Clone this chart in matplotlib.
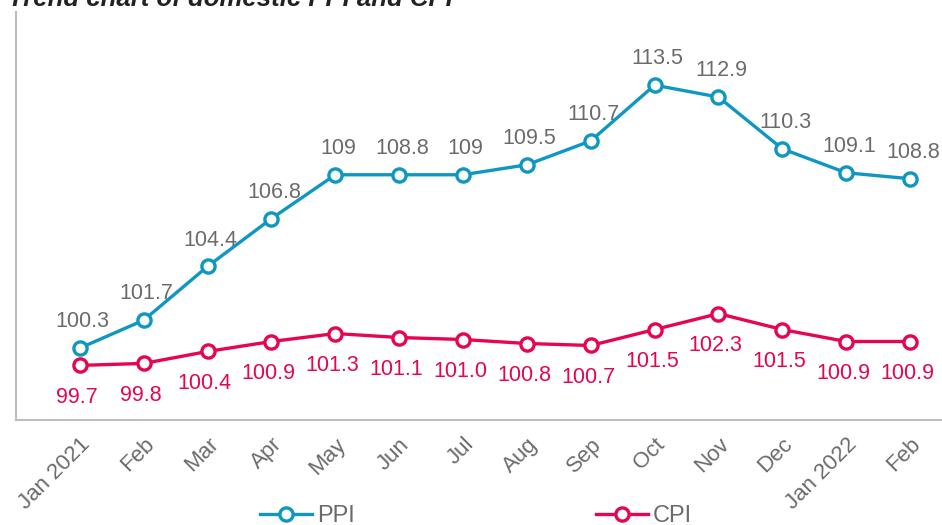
import matplotlib
matplotlib.use("Agg")
import matplotlib.pyplot as plt
from matplotlib.lines import Line2D

months = ["Jan 2021", "Feb", "Mar", "Apr", "May", "Jun", "Jul", "Aug",
          "Sep", "Oct", "Nov", "Dec", "Jan 2022", "Feb"]
# plotted positions (Jun point sits level with May/Jul)
ppi = [100.3, 101.7, 104.4, 106.8, 109, 109.0, 109, 109.5, 110.7, 113.5,
       112.9, 110.3, 109.1, 108.8]
cpi = [99.7, 99.8, 100.4, 100.9, 101.3, 101.1, 101.0, 100.8, 100.7, 101.5,
       102.3, 101.5, 100.9, 100.9]
ppi_labels = ["100.3", "101.7", "104.4", "106.8", "109", "108.8", "109",
              "109.5", "110.7", "113.5", "112.9", "110.3", "109.1", "108.8"]
cpi_labels = ["99.7", "99.8", "100.4", "100.9", "101.3", "101.1", "101.0",
              "100.8", "100.7", "101.5", "102.3", "101.5", "100.9", "100.9"]

PPI_C = "#0e97c2"
CPI_C = "#e5064f"
TXT = "#6b6b6b"
SPINE = "#bdbdbd"

plt.rcParams['font.family'] = ['Liberation Sans', 'DejaVu Sans']

W, H = 942, 525
fig = plt.figure(figsize=(W / 100, H / 100), dpi=100)
ax = fig.add_axes([16 / W, (H - 420) / H, (W - 16) / W, (420 - 12) / H])
# CPI drawn on a twin scale, shifted slightly as in the source chart
ax2 = ax.twinx()

x = list(range(len(months)))
style = dict(lw=2.4, marker='o', ms=9.5, mfc='white', mew=2.4, zorder=3,
             clip_on=False)
ax.plot(x, ppi, color=PPI_C, mec=PPI_C, **style)
ax2.plot(x, cpi, color=CPI_C, mec=CPI_C, **style)

for xi, v, lab in zip(x, ppi, ppi_labels):
    ax.annotate(lab, (xi, v), xytext=(2, 19), textcoords='offset points',
                ha='center', va='center', fontsize=15.5, color=TXT)
for xi, v, lab in zip(x, cpi, cpi_labels):
    ax2.annotate(lab, (xi, v), xytext=(-2, -23), textcoords='offset points',
                 ha='center', va='center', fontsize=15.5, color=CPI_C)

ax.set_xlim(-1, 13.5)
ax.set_ylim(96.69, 117.17)
ax2.set_ylim(96.69 + 0.27, 117.17 + 0.27)
ax.set_xticks(x)
ax.set_xticklabels(months, rotation=45, ha='right', rotation_mode='anchor',
                   fontsize=16, color=TXT)
ax.tick_params(axis='x', length=0, pad=10)
ax.set_yticks([])
ax2.set_yticks([])
for a in (ax, ax2):
    for s in ['top', 'right']:
        a.spines[s].set_visible(False)
ax2.spines['left'].set_visible(False)
ax2.spines['bottom'].set_visible(False)
for s in ['left', 'bottom']:
    ax.spines[s].set_color(SPINE)
    ax.spines[s].set_linewidth(1.5)

handles = [
    Line2D([], [], color=PPI_C, lw=2.4, marker='o', ms=9.5, mfc='white',
           mec=PPI_C, mew=2.4),
    Line2D([], [], color=CPI_C, lw=2.4, marker='o', ms=9.5, mfc='white',
           mec=CPI_C, mew=2.4),
]
leg = fig.legend(handles, ["PPI", "CPI"], ncol=2, loc='center',
                 bbox_to_anchor=(476 / W, 1 - 516 / H), frameon=False,
                 fontsize=17, handlelength=2.2, handletextpad=0.22,
                 columnspacing=10.2, borderpad=0, borderaxespad=0)
for t in leg.get_texts():
    t.set_color(TXT)

fig.text(8 / W, 1 - 6 / H, "Trend chart of domestic PPI and CPI",
         fontsize=18.5, fontweight='bold', fontstyle='italic', color='#222222',
         ha='left', va='baseline')

fig.savefig("out.png", dpi=100)
